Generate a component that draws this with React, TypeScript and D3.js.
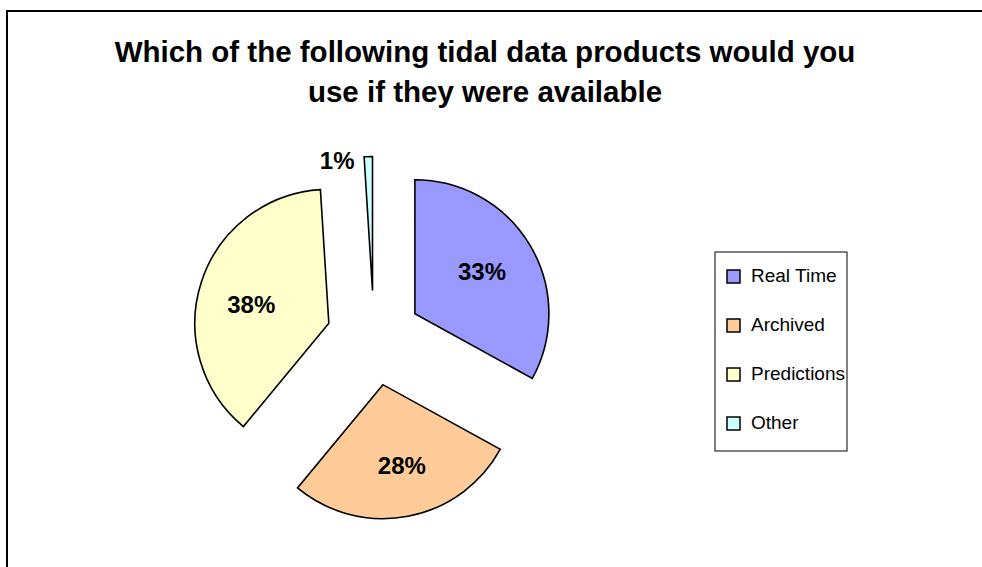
import React from "react";
import * as d3 from "d3";

const categories = ["Real Time", "Archived", "Predictions", "Other"];
const percents = [33, 28, 38, 1];
const colors = ["#9999FF", "#FFCC99", "#FFFFCC", "#CCFFFF"];
const titleLines = [
  "Which of the following tidal data products would you",
  "use if they were available",
];

const W = 982;
const H = 567;
const FONT = "'Liberation Sans', Arial, Helvetica, sans-serif";

export default function App() {
  const cx = 374;
  const cy = 338;
  const radius = 134;
  const explode = 47.5;

  const pie = d3
    .pie<number>()
    .sort(null)
    .startAngle(0)
    .endAngle(2 * Math.PI)
    .value((d) => d);
  const arcs = pie(percents);
  const arcGen = d3.arc<d3.PieArcDatum<number>>().innerRadius(0).outerRadius(radius);

  const dir = (a: number) => [Math.sin(a), -Math.cos(a)];

  return (
    <svg
      width={W}
      height={H}
      style={{ position: "absolute", left: 0, top: 0, background: "#fff" }}
    >
      <rect x={7} y={11} width={W + 20} height={H + 20} fill="#fff" stroke="#000" strokeWidth={2} />

      {titleLines.map((t, i) => (
        <text
          key={i}
          x={485}
          y={62 + i * 40}
          textAnchor="middle"
          fontFamily={FONT}
          fontWeight="bold"
          fontSize={29.5}
          fill="#000"
        >
          {t}
        </text>
      ))}

      {arcs.map((a, i) => {
        const mid = (a.startAngle + a.endAngle) / 2;
        const [ux, uy] = dir(mid);
        const ox = cx + ux * explode;
        const oy = cy + uy * explode;
        const small = percents[i] < 5;
        // labels sit inside each wedge, a little off the bisector
        const labelAngle = mid - 0.05;
        const [lux, luy] = dir(labelAngle);
        let lx: number, ly: number, anchor: string;
        if (small) {
          const [px, py] = dir(a.endAngle);
          lx = ox + px * radius - 18;
          ly = oy + py * radius + 12;
          anchor = "end";
        } else {
          lx = ox + lux * radius * 0.6;
          ly = oy + luy * radius * 0.6 + 11;
          anchor = "middle";
        }
        return (
          <g key={categories[i]}>
            <path
              d={arcGen(a) || ""}
              transform={`translate(${ox},${oy})`}
              fill={colors[i]}
              stroke="#000"
              strokeWidth={1.6}
              strokeLinejoin="miter"
            />
            <text
              x={lx}
              y={ly}
              textAnchor={anchor}
              fontFamily={FONT}
              fontWeight="bold"
              fontSize={24}
              fill="#000"
            >
              {percents[i]}%
            </text>
          </g>
        );
      })}

      <g>
        <rect x={715} y={252} width={132} height={199} fill="#fff" stroke="#000" strokeWidth={1} />
        {categories.map((c, i) => (
          <g key={c} transform={`translate(727,${270 + i * 49})`}>
            <rect x={0} y={0} width={13} height={13} fill={colors[i]} stroke="#000" strokeWidth={1.5} />
            <text x={24} y={12} fontFamily={FONT} fontSize={19} fill="#000">
              {c}
            </text>
          </g>
        ))}
      </g>
    </svg>
  );
}
